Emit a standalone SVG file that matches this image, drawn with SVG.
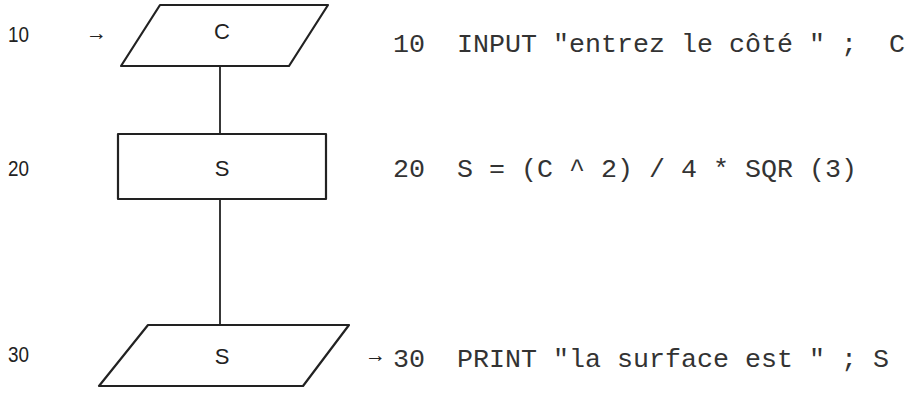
<svg xmlns="http://www.w3.org/2000/svg" width="916" height="396" viewBox="0 0 916 396">
<style>
.shape{fill:#fff;stroke:#222;stroke-width:2.2;stroke-linejoin:round}
.conn{stroke:#222;stroke-width:1.8;fill:none}
.lbl{font-family:"Liberation Sans",Arial,sans-serif;font-size:22px;fill:#222}
.num{font-family:"Liberation Sans",Arial,sans-serif;font-size:22px;fill:#222}
.arr{font-family:"Liberation Sans",Arial,sans-serif;font-size:21px;fill:#222}
.code{font-family:"Liberation Mono","Courier New",monospace;font-size:26.67px;fill:#333;white-space:pre}
</style>
<rect width="916" height="396" fill="#fff"/>
<g id="connectors">
<line class="conn" x1="220" y1="66" x2="220" y2="134"/>
<line class="conn" x1="220" y1="199" x2="220" y2="325"/>
</g>
<g id="node-input">
<polygon class="shape" points="160,5 328,5 289,66 121,66"/>
<text class="lbl" x="222" y="39" text-anchor="middle">C</text>
</g>
<g id="node-process">
<rect class="shape" x="118" y="134" width="208" height="65"/>
<text class="lbl" x="222" y="176" text-anchor="middle">S</text>
</g>
<g id="node-output">
<polygon class="shape" points="148,325 349,325 303,386 99,386"/>
<text class="lbl" x="222" y="364" text-anchor="middle">S</text>
</g>
<g id="line-numbers">
<text class="num" x="8" y="42" textLength="21" lengthAdjust="spacingAndGlyphs">10</text>
<text class="arr" x="86" y="40">→</text>
<text class="num" x="8" y="176" textLength="21" lengthAdjust="spacingAndGlyphs">20</text>
<text class="num" x="8" y="362" textLength="21" lengthAdjust="spacingAndGlyphs">30</text>
</g>
<g id="code">
<text class="code" x="393" y="52" xml:space="preserve">10  INPUT "entrez le côté " ;  C</text>
<text class="code" x="393" y="177" xml:space="preserve">20  S = (C ^ 2) / 4 * SQR (3)</text>
<text class="arr" x="365" y="362">→</text>
<text class="code" x="393" y="367" xml:space="preserve">30  PRINT "la surface est " ; S</text>
</g>
</svg>
